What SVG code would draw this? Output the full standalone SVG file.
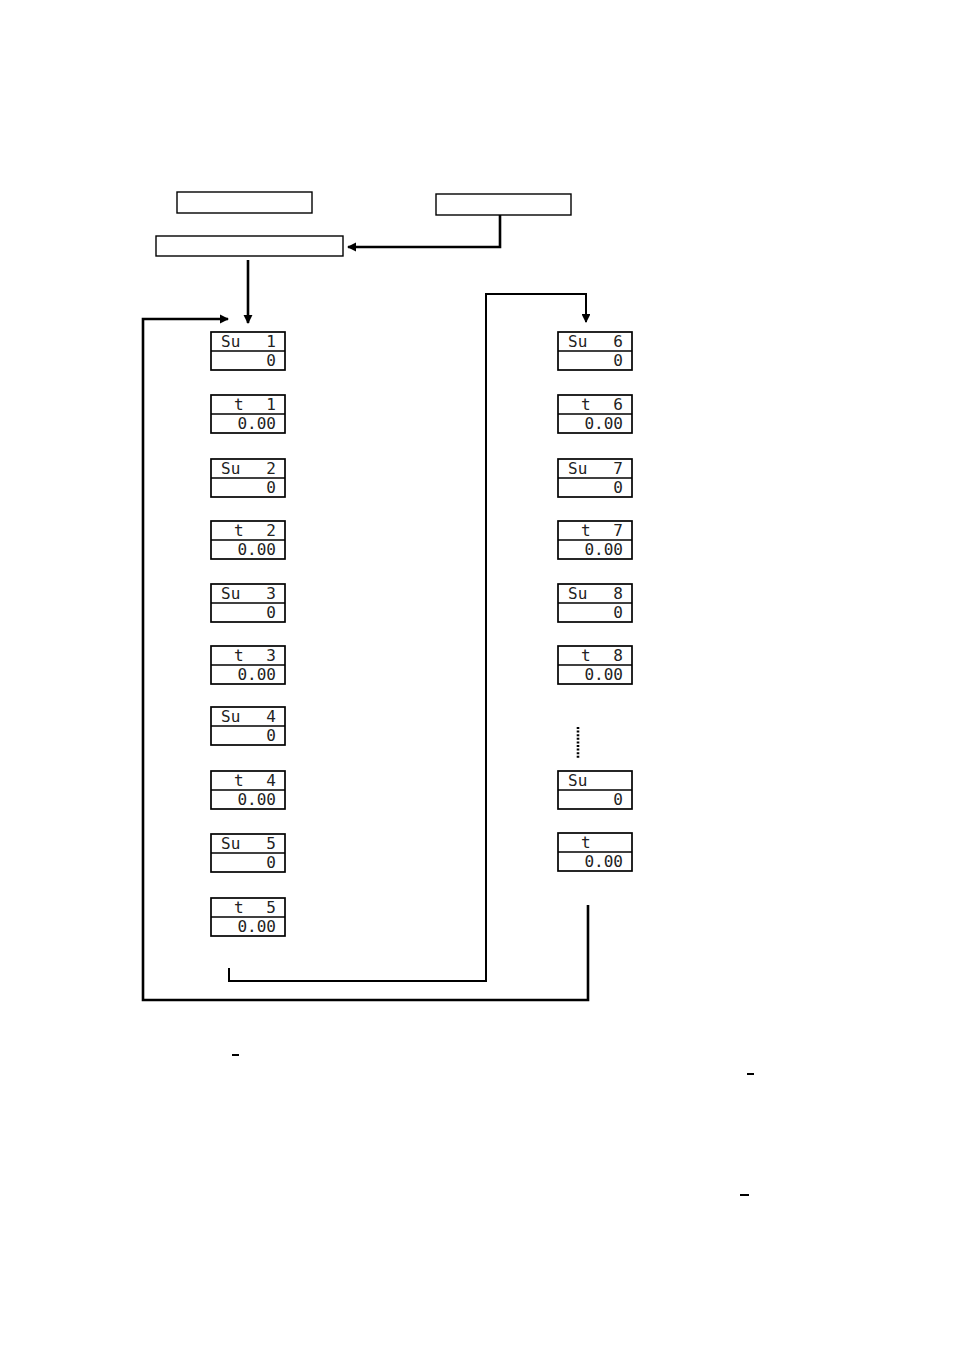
<svg xmlns="http://www.w3.org/2000/svg" width="954" height="1351" viewBox="0 0 954 1351">
<defs>
<style>
.box{fill:#fff;stroke:#000;stroke-width:1.4}
.lcd{fill:#fff;stroke:#000;stroke-width:1.7}
.div{stroke:#000;stroke-width:1.6}
.seg{font-family:"DejaVu Sans Mono","Liberation Mono",monospace;font-size:16px;fill:#222}
.c{fill:none;stroke:#000;stroke-width:2.6}
.c2{fill:none;stroke:#000;stroke-width:2}
.dash{stroke:#000;stroke-width:2}
</style>
<marker id="ah" viewBox="0 0 10 10" refX="9" refY="5" markerWidth="3.6" markerHeight="3.6" orient="auto" markerUnits="strokeWidth">
<path d="M0,0 L10,5 L0,10 Z" fill="#000"/>
</marker>
<marker id="ah2" viewBox="0 0 10 10" refX="9" refY="5" markerWidth="4.4" markerHeight="4.4" orient="auto" markerUnits="strokeWidth">
<path d="M0,0 L10,5 L0,10 Z" fill="#000"/>
</marker>
<g id="lcdframe">
<rect class="lcd" x="0" y="0" width="74" height="38"/>
<line class="div" x1="0" y1="19" x2="74" y2="19"/>
</g>
</defs>

<g id="box-a"><rect class="box" x="177" y="192" width="135" height="21"/></g>
<g id="box-b"><rect class="box" x="436" y="194" width="135" height="21"/></g>
<g id="box-c"><rect class="box" x="156" y="236" width="187" height="20"/></g>

<g id="connectors">
<polyline class="c" points="500,215 500,247 348,247" marker-end="url(#ah)"/>
<polyline class="c" points="248,260 248,323" marker-end="url(#ah)"/>
<polyline class="c" points="588,905 588,1000 143,1000 143,319 228,319" marker-end="url(#ah)"/>
<polyline class="c2" points="229,968 229,981 486,981 486,294 586,294 586,322" marker-end="url(#ah2)"/>
<line x1="578" y1="727" x2="578" y2="758" stroke="#000" stroke-width="2.6" stroke-dasharray="2,1.6"/>
</g>

<g id="lcd-su1" transform="translate(211,332)"><use href="#lcdframe"/><text class="seg" x="10" y="15">Su</text><text class="seg" x="65" y="15" text-anchor="end">1</text><text class="seg" x="65" y="34" text-anchor="end">0</text></g>
<g id="lcd-t1" transform="translate(211,395)"><use href="#lcdframe"/><text class="seg" x="23" y="15">t</text><text class="seg" x="65" y="15" text-anchor="end">1</text><text class="seg" x="65" y="34" text-anchor="end">0.00</text></g>
<g id="lcd-su2" transform="translate(211,459)"><use href="#lcdframe"/><text class="seg" x="10" y="15">Su</text><text class="seg" x="65" y="15" text-anchor="end">2</text><text class="seg" x="65" y="34" text-anchor="end">0</text></g>
<g id="lcd-t2" transform="translate(211,521)"><use href="#lcdframe"/><text class="seg" x="23" y="15">t</text><text class="seg" x="65" y="15" text-anchor="end">2</text><text class="seg" x="65" y="34" text-anchor="end">0.00</text></g>
<g id="lcd-su3" transform="translate(211,584)"><use href="#lcdframe"/><text class="seg" x="10" y="15">Su</text><text class="seg" x="65" y="15" text-anchor="end">3</text><text class="seg" x="65" y="34" text-anchor="end">0</text></g>
<g id="lcd-t3" transform="translate(211,646)"><use href="#lcdframe"/><text class="seg" x="23" y="15">t</text><text class="seg" x="65" y="15" text-anchor="end">3</text><text class="seg" x="65" y="34" text-anchor="end">0.00</text></g>
<g id="lcd-su4" transform="translate(211,707)"><use href="#lcdframe"/><text class="seg" x="10" y="15">Su</text><text class="seg" x="65" y="15" text-anchor="end">4</text><text class="seg" x="65" y="34" text-anchor="end">0</text></g>
<g id="lcd-t4" transform="translate(211,771)"><use href="#lcdframe"/><text class="seg" x="23" y="15">t</text><text class="seg" x="65" y="15" text-anchor="end">4</text><text class="seg" x="65" y="34" text-anchor="end">0.00</text></g>
<g id="lcd-su5" transform="translate(211,834)"><use href="#lcdframe"/><text class="seg" x="10" y="15">Su</text><text class="seg" x="65" y="15" text-anchor="end">5</text><text class="seg" x="65" y="34" text-anchor="end">0</text></g>
<g id="lcd-t5" transform="translate(211,898)"><use href="#lcdframe"/><text class="seg" x="23" y="15">t</text><text class="seg" x="65" y="15" text-anchor="end">5</text><text class="seg" x="65" y="34" text-anchor="end">0.00</text></g>

<g id="lcd-su6" transform="translate(558,332)"><use href="#lcdframe"/><text class="seg" x="10" y="15">Su</text><text class="seg" x="65" y="15" text-anchor="end">6</text><text class="seg" x="65" y="34" text-anchor="end">0</text></g>
<g id="lcd-t6" transform="translate(558,395)"><use href="#lcdframe"/><text class="seg" x="23" y="15">t</text><text class="seg" x="65" y="15" text-anchor="end">6</text><text class="seg" x="65" y="34" text-anchor="end">0.00</text></g>
<g id="lcd-su7" transform="translate(558,459)"><use href="#lcdframe"/><text class="seg" x="10" y="15">Su</text><text class="seg" x="65" y="15" text-anchor="end">7</text><text class="seg" x="65" y="34" text-anchor="end">0</text></g>
<g id="lcd-t7" transform="translate(558,521)"><use href="#lcdframe"/><text class="seg" x="23" y="15">t</text><text class="seg" x="65" y="15" text-anchor="end">7</text><text class="seg" x="65" y="34" text-anchor="end">0.00</text></g>
<g id="lcd-su8" transform="translate(558,584)"><use href="#lcdframe"/><text class="seg" x="10" y="15">Su</text><text class="seg" x="65" y="15" text-anchor="end">8</text><text class="seg" x="65" y="34" text-anchor="end">0</text></g>
<g id="lcd-t8" transform="translate(558,646)"><use href="#lcdframe"/><text class="seg" x="23" y="15">t</text><text class="seg" x="65" y="15" text-anchor="end">8</text><text class="seg" x="65" y="34" text-anchor="end">0.00</text></g>
<g id="lcd-sun" transform="translate(558,771)"><use href="#lcdframe"/><text class="seg" x="10" y="15">Su</text><text class="seg" x="65" y="34" text-anchor="end">0</text></g>
<g id="lcd-tn" transform="translate(558,833)"><use href="#lcdframe"/><text class="seg" x="23" y="15">t</text><text class="seg" x="65" y="34" text-anchor="end">0.00</text></g>

<g id="marks">
<line class="dash" x1="232" y1="1055" x2="239" y2="1055"/>
<line class="dash" x1="747" y1="1074" x2="754" y2="1074"/>
<line class="dash" x1="740" y1="1195" x2="749" y2="1195"/>
</g>
</svg>
